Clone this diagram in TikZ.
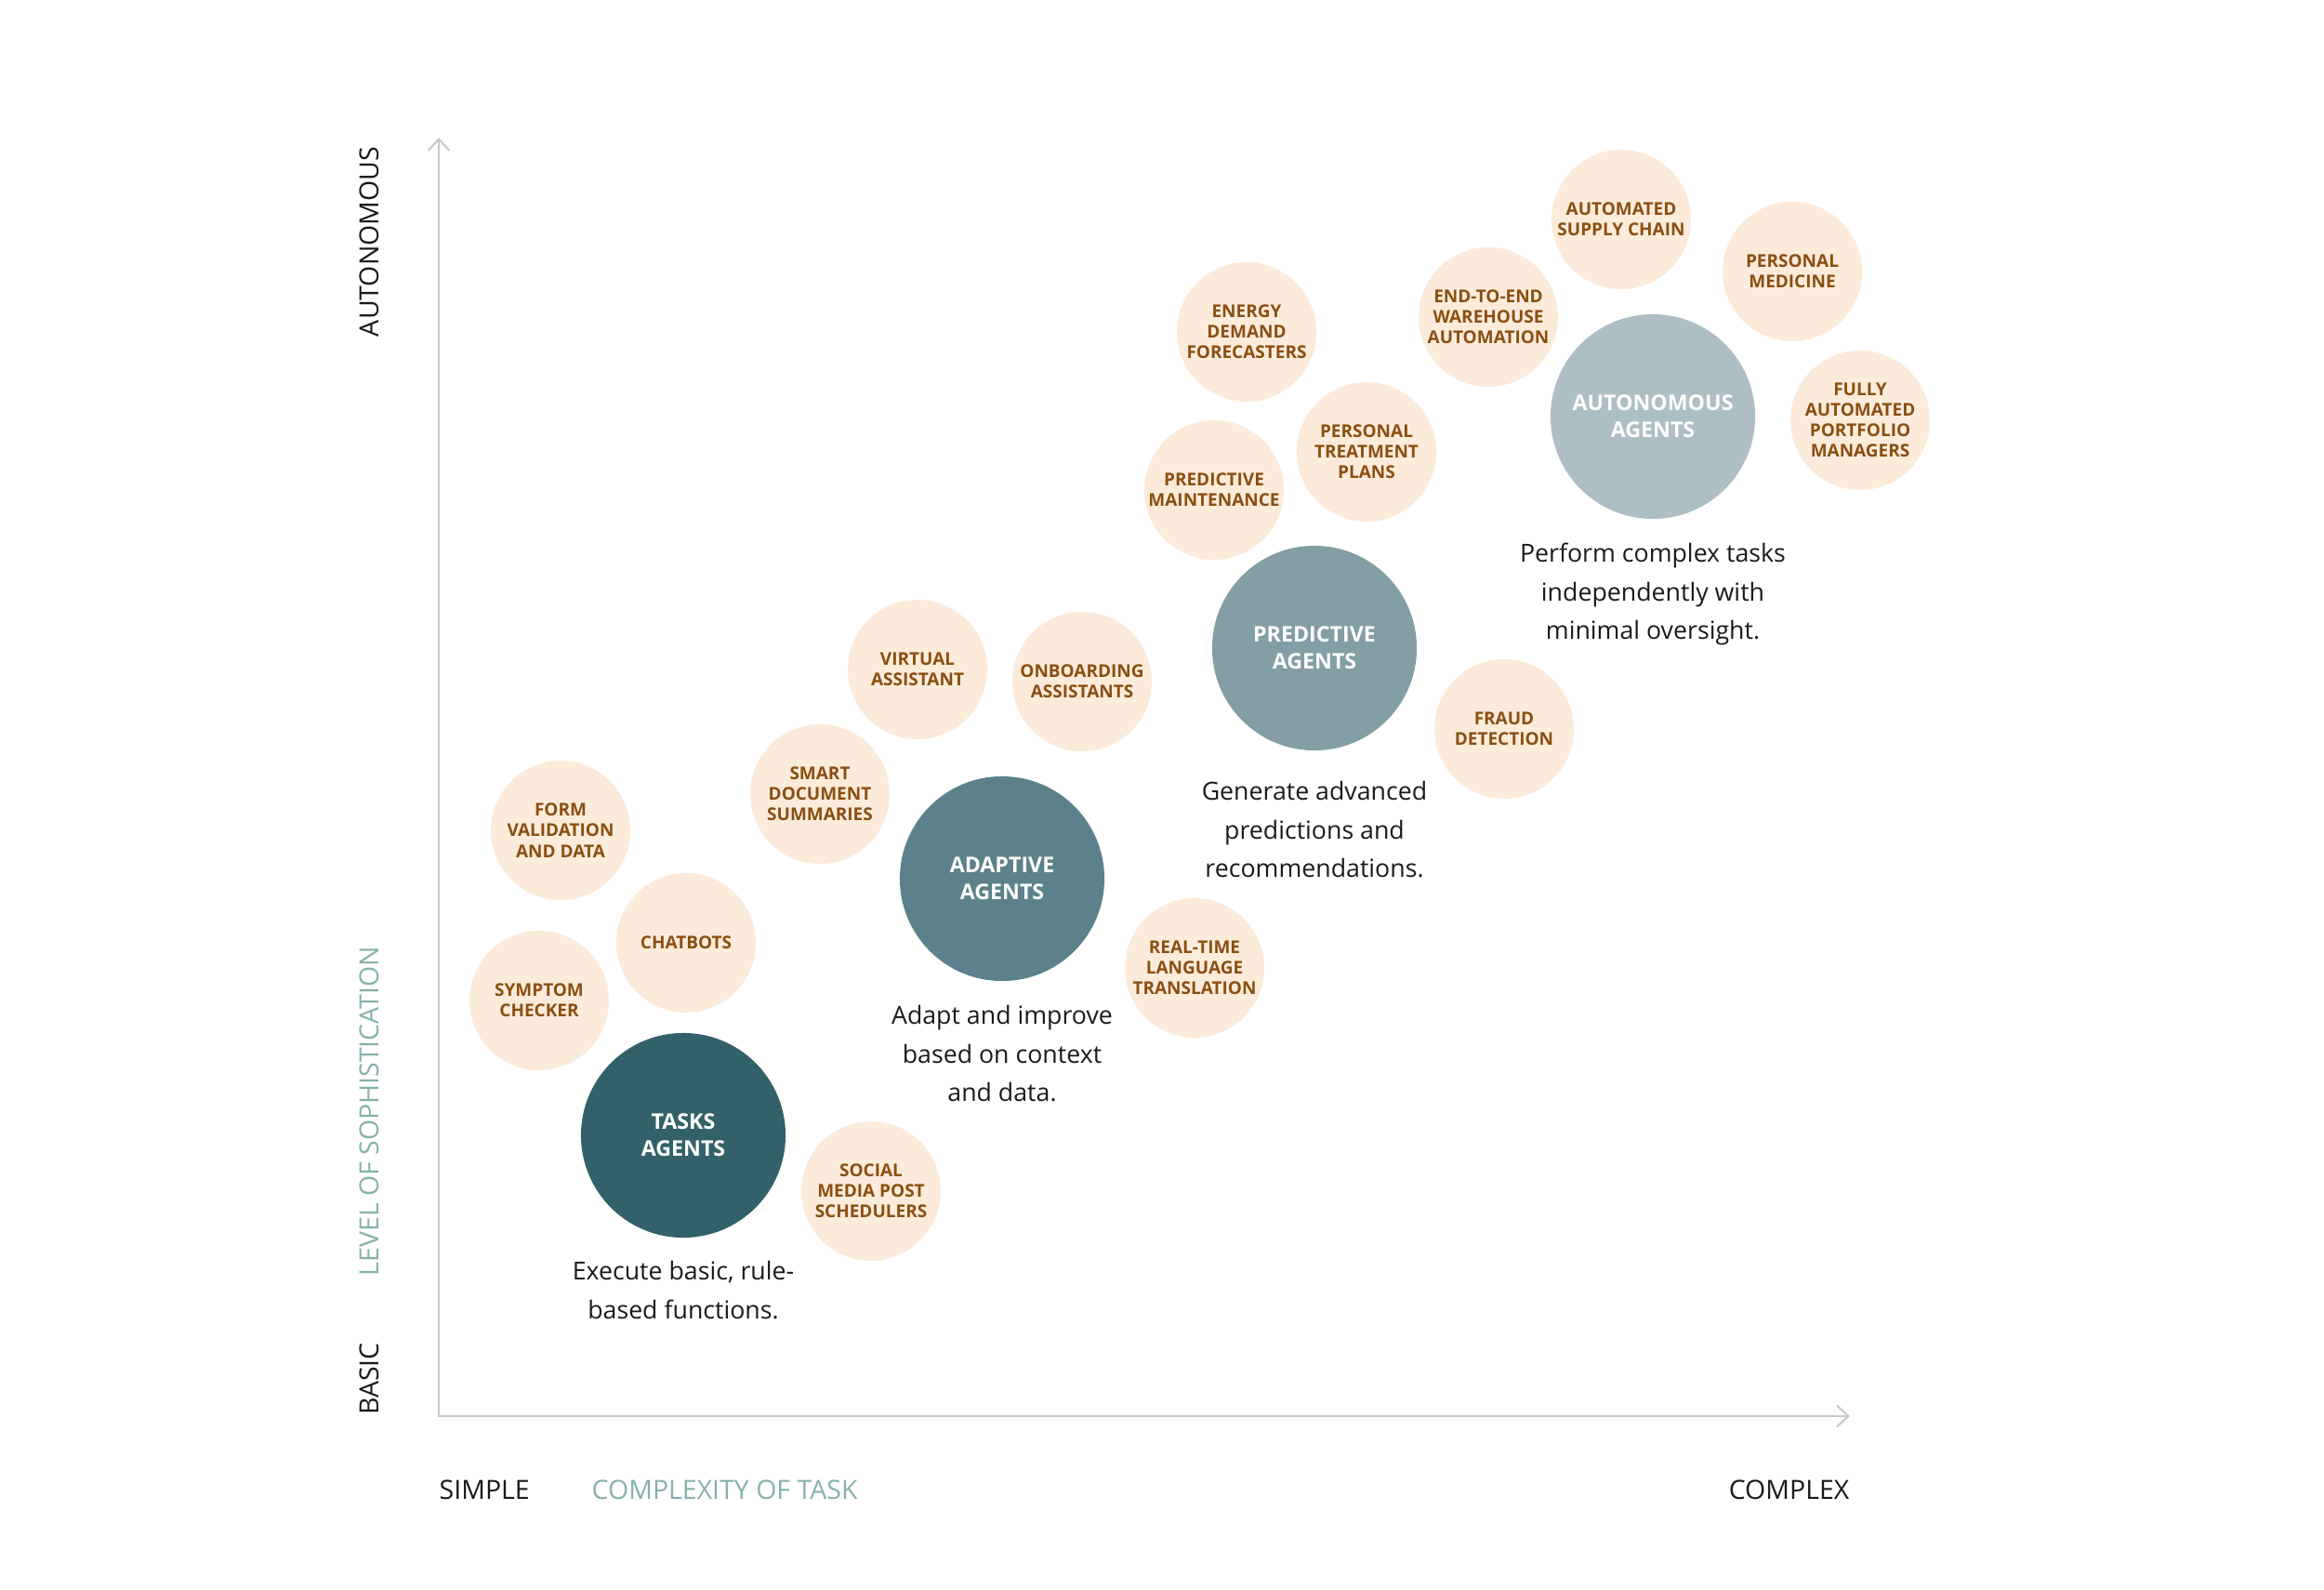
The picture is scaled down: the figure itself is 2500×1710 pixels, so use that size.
\documentclass[tikz,border=0pt]{standalone}
\usepackage{fontspec}
\setmainfont{Open Sans}
\usetikzlibrary{positioning, arrows.meta}

\definecolor{taskteal}{HTML}{336169}
\definecolor{adaptteal}{HTML}{5C818A}
\definecolor{predteal}{HTML}{839EA4}
\definecolor{autoteal}{HTML}{ADBFC4}
\definecolor{peach}{HTML}{FCEBDB}
\definecolor{usebrown}{HTML}{8A4F10}
\definecolor{labelteal}{HTML}{86B1AE}
\definecolor{axisgray}{HTML}{C8C8C8}
\definecolor{inkblack}{HTML}{1A1A1A}

\begin{document}
\begin{tikzpicture}[
    x=0.01cm, y=-0.01cm,
    agent/.style={circle, minimum size=2.2cm, inner sep=0pt, text=white, align=center, font=\bfseries\fontsize{6.6}{8.2}\selectfont},
    usecase/.style={circle, fill=peach, minimum size=1.5cm, inner sep=0pt, text=usebrown, align=center, font=\bfseries\fontsize{5.4}{6.3}\selectfont},
    desc/.style={align=center, inner sep=0pt, text=inkblack, font=\fontsize{7.6}{11.8}\selectfont},
    axislabel/.style={inner sep=0pt, text=inkblack, font=\fontsize{8.1}{9}\selectfont},
    axis/.style={draw=axisgray, line width=0.6pt, line cap=round, -{Straight Barb[length=1.2mm, width=2.2mm, line cap=round]}}
]
    \useasboundingbox (0,0) rectangle (2500,1710);

    % axes
    \coordinate (origin) at (472,1523);
    \coordinate (ytop) at (472,148);
    \coordinate (xend) at (1990,1523);
    \draw[axis] (origin) -- (ytop);
    \draw[axis] (origin) -- (xend);

    \node[axislabel, rotate=90] (autolbl) at (397,260) {AUTONOMOUS};
    \node[axislabel, rotate=90, text=labelteal] (levellbl) at (397,1195) {LEVEL OF SOPHISTICATION};
    \node[axislabel, rotate=90] (basiclbl) at (397,1483) {BASIC};
    \node[axislabel, anchor=west] (simplelbl) at (472,1602) {SIMPLE};
    \node[axislabel, anchor=west, text=labelteal] (complexitylbl) at (636,1602) {COMPLEXITY OF TASK};
    \node[axislabel, anchor=east] (complexlbl) at (1990,1602) {COMPLEX};

    % agent types
    \node[agent, fill=taskteal] (tasks) at (735,1221) {TASKS\\AGENTS};
    \node[agent, fill=adaptteal] (adaptive) at (1078,945) {ADAPTIVE\\AGENTS};
    \node[agent, fill=predteal] (predictive) at (1414,697) {PREDICTIVE\\AGENTS};
    \node[agent, fill=autoteal] (autonomous) at (1778,448) {AUTONOMOUS\\AGENTS};

    \node[desc, below=0.24cm of tasks] (tasksdesc) {Execute basic, rule-\\based functions.};
    \node[desc, below=0.25cm of adaptive] (adaptivedesc) {Adapt and improve\\based on context\\and data.};
    \node[desc, below=0.32cm of predictive] (predictivedesc) {Generate advanced\\predictions and\\recommendations.};
    \node[desc, below=0.25cm of autonomous] (autonomousdesc) {Perform complex tasks\\independently with\\minimal oversight.};

    % use cases
    \node[usecase] (formval) at (603,893) {FORM\\VALIDATION\\AND DATA};
    \node[usecase] (symptom) at (580,1076) {SYMPTOM\\CHECKER};
    \node[usecase] (chatbots) at (738,1014) {CHATBOTS};
    \node[usecase] (social) at (937,1281) {SOCIAL\\MEDIA POST\\SCHEDULERS};
    \node[usecase] (smartdoc) at (882,854) {SMART\\DOCUMENT\\SUMMARIES};
    \node[usecase] (virtual) at (987,720) {VIRTUAL\\ASSISTANT};
    \node[usecase] (onboard) at (1164,733) {ONBOARDING\\ASSISTANTS};
    \node[usecase] (realtime) at (1285,1041) {REAL-TIME\\LANGUAGE\\TRANSLATION};
    \node[usecase] (predmaint) at (1306,527) {PREDICTIVE\\MAINTENANCE};
    \node[usecase] (energy) at (1341,357) {ENERGY\\DEMAND\\FORECASTERS};
    \node[usecase] (treatment) at (1470,486) {PERSONAL\\TREATMENT\\PLANS};
    \node[usecase] (fraud) at (1618,784) {FRAUD\\DETECTION};
    \node[usecase] (warehouse) at (1601,341) {END-TO-END\\WAREHOUSE\\AUTOMATION};
    \node[usecase] (supply) at (1744,236) {AUTOMATED\\SUPPLY CHAIN};
    \node[usecase] (medicine) at (1928,292) {PERSONAL\\MEDICINE};
    \node[usecase] (portfolio) at (2001,452) {FULLY\\AUTOMATED\\PORTFOLIO\\MANAGERS};
\end{tikzpicture}
\end{document}
